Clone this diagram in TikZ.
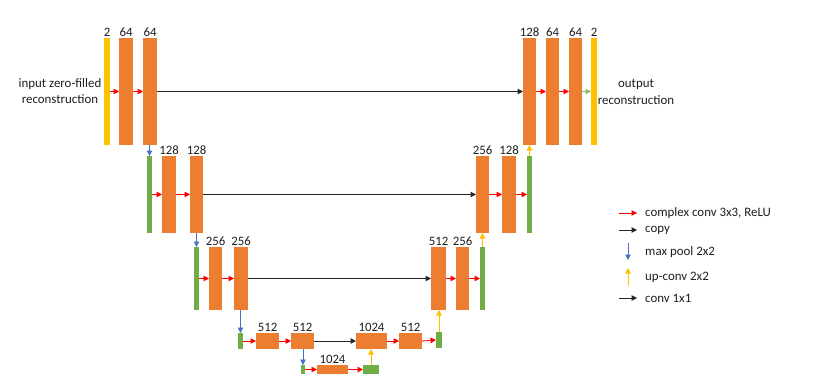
\documentclass[tikz,border=0pt]{standalone}
\usepackage{fontspec}
\setmainfont{Carlito}
\usetikzlibrary{arrows.meta}
\definecolor{borange}{HTML}{ED7D31}
\definecolor{byellow}{HTML}{FFC000}
\definecolor{bgreen}{HTML}{70AD47}
\definecolor{bblue}{HTML}{4472C4}
\definecolor{txt}{HTML}{1F1F1F}
\newcommand\blk[6]{\node[#1, minimum width={(#4-#3)*1pt}, minimum height={(#6-#5)*1pt}] (#2) at ({(#3+#4)/2},{(#5+#6)/2}) {};}
\newcommand\lbl[2]{\node[lab] at ([yshift=1.8pt]#1.north) {#2};}
\tikzset{
  barbase/.style={rectangle, inner sep=0pt, outer sep=0pt, draw=none},
  ob/.style={barbase, fill=borange},
  yb/.style={barbase, fill=byellow},
  gb/.style={barbase, fill=bgreen},
  lab/.style={anchor=base, inner sep=0pt, font=\fontsize{12.8}{15}\selectfont, text=txt},
  txtn/.style={inner sep=0pt, font=\fontsize{12.9}{16.3}\selectfont, text=txt, align=center},
  tip/.style={-{Triangle[length=5.5pt,width=5.5pt]}, line width=0.9pt},
  conv/.style={tip, draw=red},
  copyarr/.style={tip, draw=black!85, line width=1pt},
  pool/.style={tip, draw=bblue},
  upconv/.style={tip, draw=byellow},
  onebyone/.style={tip, draw=bgreen!80!white}
}
\begin{document}
\begin{tikzpicture}[x=1pt,y=-1pt]
\path[use as bounding box, fill=white] (0,0) rectangle (824,386);
% level 1
\blk{yb}{Y1}{104}{110}{38}{145}
\blk{ob}{O1a}{119}{133}{38}{145}
\blk{ob}{O1b}{143}{157}{38}{145}
\blk{ob}{O1c}{523}{536}{38}{145}
\blk{ob}{O1d}{546}{559}{38}{145}
\blk{ob}{O1e}{569}{582}{38}{145}
\blk{yb}{Y2}{591}{597}{38}{145}
% level 2
\blk{gb}{G2}{147}{152}{156}{233}
\blk{ob}{O2a}{162}{176}{156}{233}
\blk{ob}{O2b}{190}{203}{156}{233}
\blk{ob}{O2c}{476}{489}{156}{233}
\blk{ob}{O2d}{502}{516}{156}{233}
\blk{gb}{G2r}{527}{532}{156}{233}
% level 3
\blk{gb}{G3}{194}{199}{247}{310}
\blk{ob}{O3a}{209}{222}{247}{310}
\blk{ob}{O3b}{234}{248}{247}{310}
\blk{ob}{O3c}{431}{446}{247}{310}
\blk{ob}{O3d}{456}{469}{247}{310}
\blk{gb}{G3r}{480}{485}{247}{310}
% level 4
\blk{gb}{G4}{238}{243}{333}{349}
\blk{ob}{O4a}{256}{279}{333}{349}
\blk{ob}{O4b}{291}{314}{333}{349}
\blk{ob}{O4c}{356}{387}{333}{349}
\blk{ob}{O4d}{399}{422}{333}{349}
\blk{gb}{G4r}{436}{442}{332}{348}
% level 5
\blk{gb}{G5}{301}{305}{365}{374}
\blk{ob}{O5}{317}{348}{365}{374}
\blk{gb}{G5r}{363}{379}{365}{374}
% labels
\lbl{Y1}{2}\lbl{O1a}{64}\lbl{O1b}{64}
\lbl{O1c}{128}\lbl{O1d}{64}\lbl{O1e}{64}\lbl{Y2}{2}
\lbl{O2a}{128}\lbl{O2b}{128}\lbl{O2c}{256}\lbl{O2d}{128}
\lbl{O3a}{256}\lbl{O3b}{256}\lbl{O3c}{512}\lbl{O3d}{256}
\lbl{O4a}{512}\lbl{O4b}{512}\lbl{O4c}{1024}\lbl{O4d}{512}
\lbl{O5}{1024}
% texts
\node[txtn] (inp) at (60,91) {input zero-filled\\reconstruction};
\node[txtn] (outp) at (636,92) {output\\reconstruction};
% level 1 arrows
\draw[conv] (Y1.east) -- (O1a.west);
\draw[conv] (O1a.east) -- (O1b.west);
\draw[copyarr] (O1b.east) -- (O1c.west);
\draw[conv] (O1c.east) -- (O1d.west);
\draw[conv] (O1d.east) -- (O1e.west);
\draw[onebyone] (O1e.east) -- (Y2.west);
% level 2
\draw[conv] (G2.east) -- (O2a.west);
\draw[conv] (O2a.east) -- (O2b.west);
\draw[copyarr] (O2b.east) -- (O2c.west);
\draw[conv] (O2c.east) -- (O2d.west);
\draw[conv] (O2d.east) -- (G2r.west);
% level 3
\draw[conv] (G3.east) -- (O3a.west);
\draw[conv] (O3a.east) -- (O3b.west);
\draw[copyarr] (O3b.east) -- (O3c.west);
\draw[conv] (O3c.east) -- (O3d.west);
\draw[conv] (O3d.east) -- (G3r.west);
% level 4
\draw[conv] (G4.east) -- (O4a.west);
\draw[conv] (O4a.east) -- (O4b.west);
\draw[copyarr] (O4b.east) -- (O4c.west);
\draw[conv] (O4c.east) -- (O4d.west);
\draw[conv] (O4d.east) -- (G4r.west);
% level 5
\draw[conv] (G5.east) -- (O5.west);
\draw[conv] (O5.east) -- (G5r.west);
% pooling
\draw[pool] (G2.north |- O1b.south) -- (G2.north);
\draw[pool] (O2b.south) -- (G3.north);
\draw[pool] (G4.north |- O3b.south) -- (G4.north);
\draw[pool] (G5.north |- O4b.south) -- (G5.north);
% up-conv
\draw[upconv] (G2r.north) -- (G2r.north |- O1c.south);
\draw[upconv] (G3r.north) -- (G3r.north |- O2c.south);
\draw[upconv] (G4r.north) -- (G4r.north |- O3c.south);
\draw[upconv] (G5r.north) -- (G5r.north |- O4c.south);
% legend
\coordinate (l1a) at (619,213); \coordinate (l1b) at (637,213);
\coordinate (l2a) at (619,230); \coordinate (l2b) at (637,230);
\coordinate (l3a) at (628,243); \coordinate (l3b) at (628,260);
\coordinate (l4a) at (628,286); \coordinate (l4b) at (628,268);
\coordinate (l5a) at (619,298); \coordinate (l5b) at (637,298);
\draw[conv] (l1a) -- (l1b);
\draw[copyarr] (l2a) -- (l2b);
\draw[pool] (l3a) -- (l3b);
\draw[upconv] (l4a) -- (l4b);
\draw[copyarr] (l5a) -- (l5b);
\node[txtn, anchor=west] (t1) at (645,213) {complex conv 3x3, ReLU};
\node[txtn, anchor=west] (t2) at (645,230) {copy};
\node[txtn, anchor=west] (t3) at (645,252) {max pool 2x2};
\node[txtn, anchor=west] (t4) at (645,277) {up-conv 2x2};
\node[txtn, anchor=west] (t5) at (645,298) {conv 1x1};
\end{tikzpicture}
\end{document}
